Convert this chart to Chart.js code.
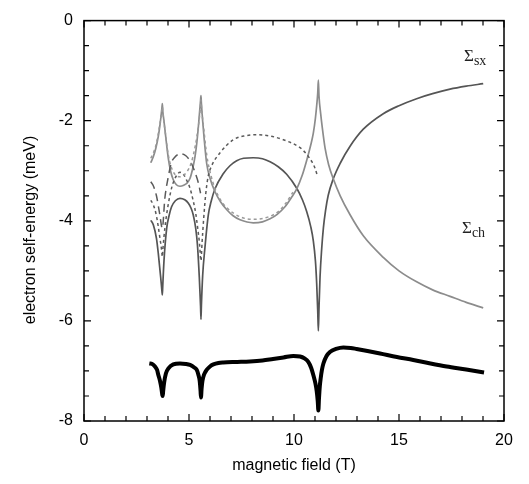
<!DOCTYPE html>
<html>
<head>
<meta charset="utf-8">
<script src="https://cdn.jsdelivr.net/npm/chart.js@4.4.1/dist/chart.umd.min.js"></script>
<style>
  html, body { margin: 0; padding: 0; background: #fff; }
  canvas { display: block; }
</style>
</head>
<body>
<canvas id="chart" width="529" height="484"></canvas>
<script>
// screened exchange, full model (solid dark)
const sxField = [3.18, 3.3, 3.45, 3.54, 3.65, 3.71, 3.73, 3.75, 3.81, 3.94, 4.05, 4.17, 4.35, 4.57, 4.8, 4.97,
  5.1, 5.2, 5.32, 5.4, 5.49, 5.55, 5.57, 5.59, 5.65, 5.76, 5.92, 6.05, 6.24, 6.63, 6.95, 7.27, 7.6, 8.06,
  8.5, 8.86, 9.25, 9.65, 10.13, 10.4, 10.6, 10.8, 10.92, 11.02, 11.08, 11.13, 11.16, 11.19, 11.24, 11.32,
  11.4, 11.5, 11.63, 11.87, 12.2, 12.67, 13.3, 14.25, 15.0, 15.84, 16.6, 17.43, 18.2, 19.01];
const sxSolid = [-3.99, -4.08, -4.35, -4.66, -5.12, -5.4, -5.48, -5.3, -4.79, -4.14, -3.9, -3.72, -3.6, -3.55, -3.58, -3.65,
  -3.75, -3.88, -4.15, -4.47, -5.12, -5.7, -5.97, -5.7, -5.1, -4.53, -3.88, -3.62, -3.36, -3.06, -2.9, -2.8, -2.75, -2.74,
  -2.76, -2.82, -2.92, -3.07, -3.35, -3.58, -3.81, -4.12, -4.4, -4.8, -5.25, -5.8, -6.2, -5.75, -5.12, -4.55,
  -4.14, -3.8, -3.49, -3.16, -2.85, -2.51, -2.17, -1.86, -1.7, -1.56, -1.46, -1.37, -1.31, -1.26];

// Coulomb hole, full model (solid light)
const chField = [3.18, 3.3, 3.42, 3.54, 3.62, 3.67, 3.71, 3.73, 3.75, 3.8, 3.86, 3.94, 4.02, 4.12, 4.25, 4.4,
  4.57, 4.75, 4.9, 5.05, 5.18, 5.29, 5.37, 5.44, 5.5, 5.55, 5.57, 5.59, 5.64, 5.72, 5.84, 6.0, 6.24, 6.5,
  6.8, 7.1, 7.43, 8.06, 8.5, 8.86, 9.2, 9.57, 9.9, 10.13, 10.4, 10.6, 10.8, 10.92, 11.02, 11.08, 11.13,
  11.16, 11.19, 11.27, 11.35, 11.48, 11.65, 11.87, 12.2, 12.67, 13.3, 14.25, 15.0, 15.84, 16.6, 17.43, 18.2, 19.01];
const chSolid = [-2.84, -2.72, -2.55, -2.31, -2.08, -1.9, -1.75, -1.66, -1.8, -1.98, -2.2, -2.5, -2.77, -3.0, -3.18, -3.28,
  -3.31, -3.29, -3.25, -3.15, -2.95, -2.71, -2.45, -2.15, -1.85, -1.6, -1.5, -1.65, -1.95, -2.35, -2.85, -3.15, -3.42, -3.62,
  -3.78, -3.9, -3.98, -4.04, -4.02, -3.96, -3.87, -3.72, -3.52, -3.36, -3.08, -2.8, -2.48, -2.25, -1.95, -1.7, -1.45,
  -1.19, -1.5, -1.86, -2.15, -2.55, -2.88, -3.16, -3.5, -3.88, -4.3, -4.73, -5.0, -5.22, -5.38, -5.51, -5.63, -5.74];

// screened exchange, approximate model (short dash, dark)
const sxDashField = [3.18, 3.3, 3.45, 3.6, 3.7, 3.73, 3.76, 3.85, 4.0, 4.2, 4.4, 4.57, 4.75, 4.9, 5.05, 5.2,
  5.32, 5.4, 5.5, 5.57, 5.62, 5.7, 5.8, 5.92, 6.08, 6.48, 7.11, 7.7, 8.22, 8.9, 9.49, 10.29, 10.6, 10.85, 11.0, 11.1];
const sxDash = [-3.59, -3.68, -3.9, -4.3, -4.6, -4.72, -4.55, -4.15, -3.7, -3.3, -3.1, -3.03, -3.08, -3.2, -3.35, -3.6,
  -3.85, -4.1, -4.45, -4.8, -4.45, -3.95, -3.45, -3.1, -2.9, -2.64, -2.38, -2.3, -2.28, -2.31, -2.38, -2.54, -2.67, -2.82, -2.95, -3.08];

// screened exchange, second approximation (long dash, dark)
const sxLongField = [3.18, 3.3, 3.45, 3.6, 3.73, 3.85, 4.0, 4.17, 4.3, 4.6, 4.85, 5.1, 5.3, 5.45, 5.55];
const sxLong = [-3.22, -3.3, -3.5, -3.85, -4.15, -3.55, -3.15, -2.83, -2.74, -2.66, -2.7, -2.84, -3.05, -3.25, -3.45];

// Coulomb hole, approximate model (short dash, light)
const chDashField = [3.18, 3.3, 3.45, 3.6, 3.7, 3.73, 3.77, 3.86, 4.02, 4.25, 4.57, 4.9, 5.1, 5.3, 5.45, 5.55,
  5.57, 5.6, 5.7, 5.85, 6.05, 6.24, 6.5, 6.8, 7.43, 8.06, 8.86, 9.3, 9.57, 9.95];
const chDash = [-2.75, -2.65, -2.45, -2.1, -1.82, -1.72, -1.9, -2.2, -2.7, -3.02, -3.12, -3.02, -2.85, -2.5, -2.1, -1.7,
  -1.58, -1.75, -2.15, -2.7, -3.1, -3.36, -3.58, -3.74, -3.92, -3.97, -3.91, -3.8, -3.67, -3.43];

// total self-energy (thick black)
const totalField = [3.11, 3.25, 3.38, 3.48, 3.54, 3.62, 3.68, 3.73, 3.75, 3.77, 3.82, 3.9, 4.02, 4.25, 4.57, 4.85,
  5.05, 5.25, 5.37, 5.45, 5.51, 5.55, 5.57, 5.6, 5.64, 5.72, 5.84, 6.0, 6.16, 6.4, 6.63, 7.3, 7.9, 8.5, 9.0, 9.5,
  9.97, 10.29, 10.5, 10.68, 10.82, 10.92, 11.02, 11.08, 11.13, 11.16, 11.19, 11.23, 11.27, 11.33, 11.4, 11.55,
  11.71, 12.0, 12.35, 12.7, 12.98, 13.5, 14.1, 14.9, 15.68, 16.5, 17.27, 18.2, 19.05];
const totalSolid = [-6.85, -6.86, -6.91, -6.98, -7.08, -7.2, -7.33, -7.48, -7.5, -7.4, -7.22, -7.05, -6.95, -6.87, -6.85, -6.86,
  -6.88, -6.93, -6.98, -7.08, -7.2, -7.4, -7.53, -7.35, -7.2, -7.07, -6.98, -6.91, -6.87, -6.84, -6.83, -6.82, -6.81, -6.79, -6.76, -6.73,
  -6.7, -6.71, -6.75, -6.82, -6.94, -7.08, -7.25, -7.4, -7.6, -7.79, -7.55, -7.3, -7.15, -6.98, -6.85, -6.7,
  -6.62, -6.56, -6.53, -6.54, -6.56, -6.6, -6.65, -6.72, -6.78, -6.85, -6.91, -6.97, -7.03];

const xMin = 0, xMax = 20, xStep = 5, xMinorStep = 1;
const yMin = -8, yMax = 0, yStep = 2, yMinorStep = 0.5;
const xTitle = 'magnetic field (T)';
const yTitle = 'electron self-energy (meV)';
const curveLabels = [
  { main: 'Σ', sub: 'sx', x: 464, y: 61 },
  { main: 'Σ', sub: 'ch', x: 462, y: 233 }
];

const pts = (xs, ys) => xs.map((x, i) => ({ x: x, y: ys[i] }));

const line = (data, color, width, dash) => ({
  data: data,
  showLine: true,
  borderColor: color,
  borderWidth: width,
  borderDash: dash,
  pointRadius: 0,
  tension: 0.4,
  cubicInterpolationMode: 'monotone',
  fill: false
});

// box frame with inward ticks on all four sides, titles and curve labels
const framePlugin = {
  id: 'frame',
  afterDraw(chart) {
    const { ctx, chartArea: a, scales } = chart;
    const xs = scales.x, ys = scales.y;
    ctx.save();
    ctx.strokeStyle = '#000';
    ctx.lineWidth = 1.5;
    ctx.strokeRect(a.left, a.top, a.right - a.left, a.bottom - a.top);
    ctx.lineWidth = 1.2;
    ctx.beginPath();
    for (let v = xMin; v <= xMax + 1e-9; v += xMinorStep) {
      const px = xs.getPixelForValue(v);
      const len = Math.abs(v % xStep) < 1e-9 ? 7 : 5;
      ctx.moveTo(px, a.bottom); ctx.lineTo(px, a.bottom - len);
      ctx.moveTo(px, a.top); ctx.lineTo(px, a.top + len);
    }
    for (let v = yMin; v <= yMax + 1e-9; v += yMinorStep) {
      const py = ys.getPixelForValue(v);
      const len = Math.abs(v % yStep) < 1e-9 ? 7 : 5;
      ctx.moveTo(a.left, py); ctx.lineTo(a.left + len, py);
      ctx.moveTo(a.right, py); ctx.lineTo(a.right - len, py);
    }
    ctx.stroke();

    ctx.fillStyle = '#000';
    ctx.font = '16px "Liberation Sans", Arial, sans-serif';
    ctx.textAlign = 'center';
    ctx.textBaseline = 'middle';
    ctx.fillText(xTitle, (a.left + a.right) / 2, 466);
    ctx.save();
    ctx.translate(31, 230);
    ctx.rotate(-Math.PI / 2);
    ctx.fillText(yTitle, 0, 0);
    ctx.restore();

    ctx.fillStyle = '#222';
    ctx.textAlign = 'left';
    ctx.textBaseline = 'alphabetic';
    curveLabels.forEach(l => {
      ctx.font = '17px "Liberation Serif", "Times New Roman", serif';
      ctx.fillText(l.main, l.x, l.y);
      const w = ctx.measureText(l.main).width;
      ctx.font = '14px "Liberation Serif", "Times New Roman", serif';
      ctx.fillText(l.sub, l.x + w, l.y + 4);
    });
    ctx.restore();
  }
};

new Chart(document.getElementById('chart'), {
  type: 'scatter',
  data: {
    datasets: [
      line(pts(chDashField, chDash), '#9a9a9a', 1.5, [3, 3]),
      line(pts(sxLongField, sxLong), '#5a5a5a', 1.5, [8, 5]),
      line(pts(sxDashField, sxDash), '#5a5a5a', 1.5, [3, 3]),
      line(pts(chField, chSolid), '#8c8c8c', 1.7, []),
      line(pts(sxField, sxSolid), '#555555', 1.7, []),
      line(pts(totalField, totalSolid), '#000000', 4, [])
    ]
  },
  options: {
    responsive: false,
    animation: false,
    layout: { padding: { left: 0, right: 25, top: 12, bottom: 0 } },
    plugins: { legend: { display: false }, tooltip: { enabled: false } },
    scales: {
      x: {
        type: 'linear', min: xMin, max: xMax,
        border: { display: false },
        grid: { display: false, drawTicks: false },
        ticks: { stepSize: xStep, color: '#000', padding: 10,
          font: { family: '"Liberation Sans", Arial, sans-serif', size: 16 } },
        afterFit: s => { s.height = 63; }
      },
      y: {
        type: 'linear', min: yMin, max: yMax,
        border: { display: false },
        grid: { display: false, drawTicks: false },
        ticks: { stepSize: yStep, color: '#000', padding: 11,
          font: { family: '"Liberation Sans", Arial, sans-serif', size: 16 } },
        afterFit: s => { s.width = 84; }
      }
    }
  },
  plugins: [framePlugin]
});
</script>
</body>
</html>
